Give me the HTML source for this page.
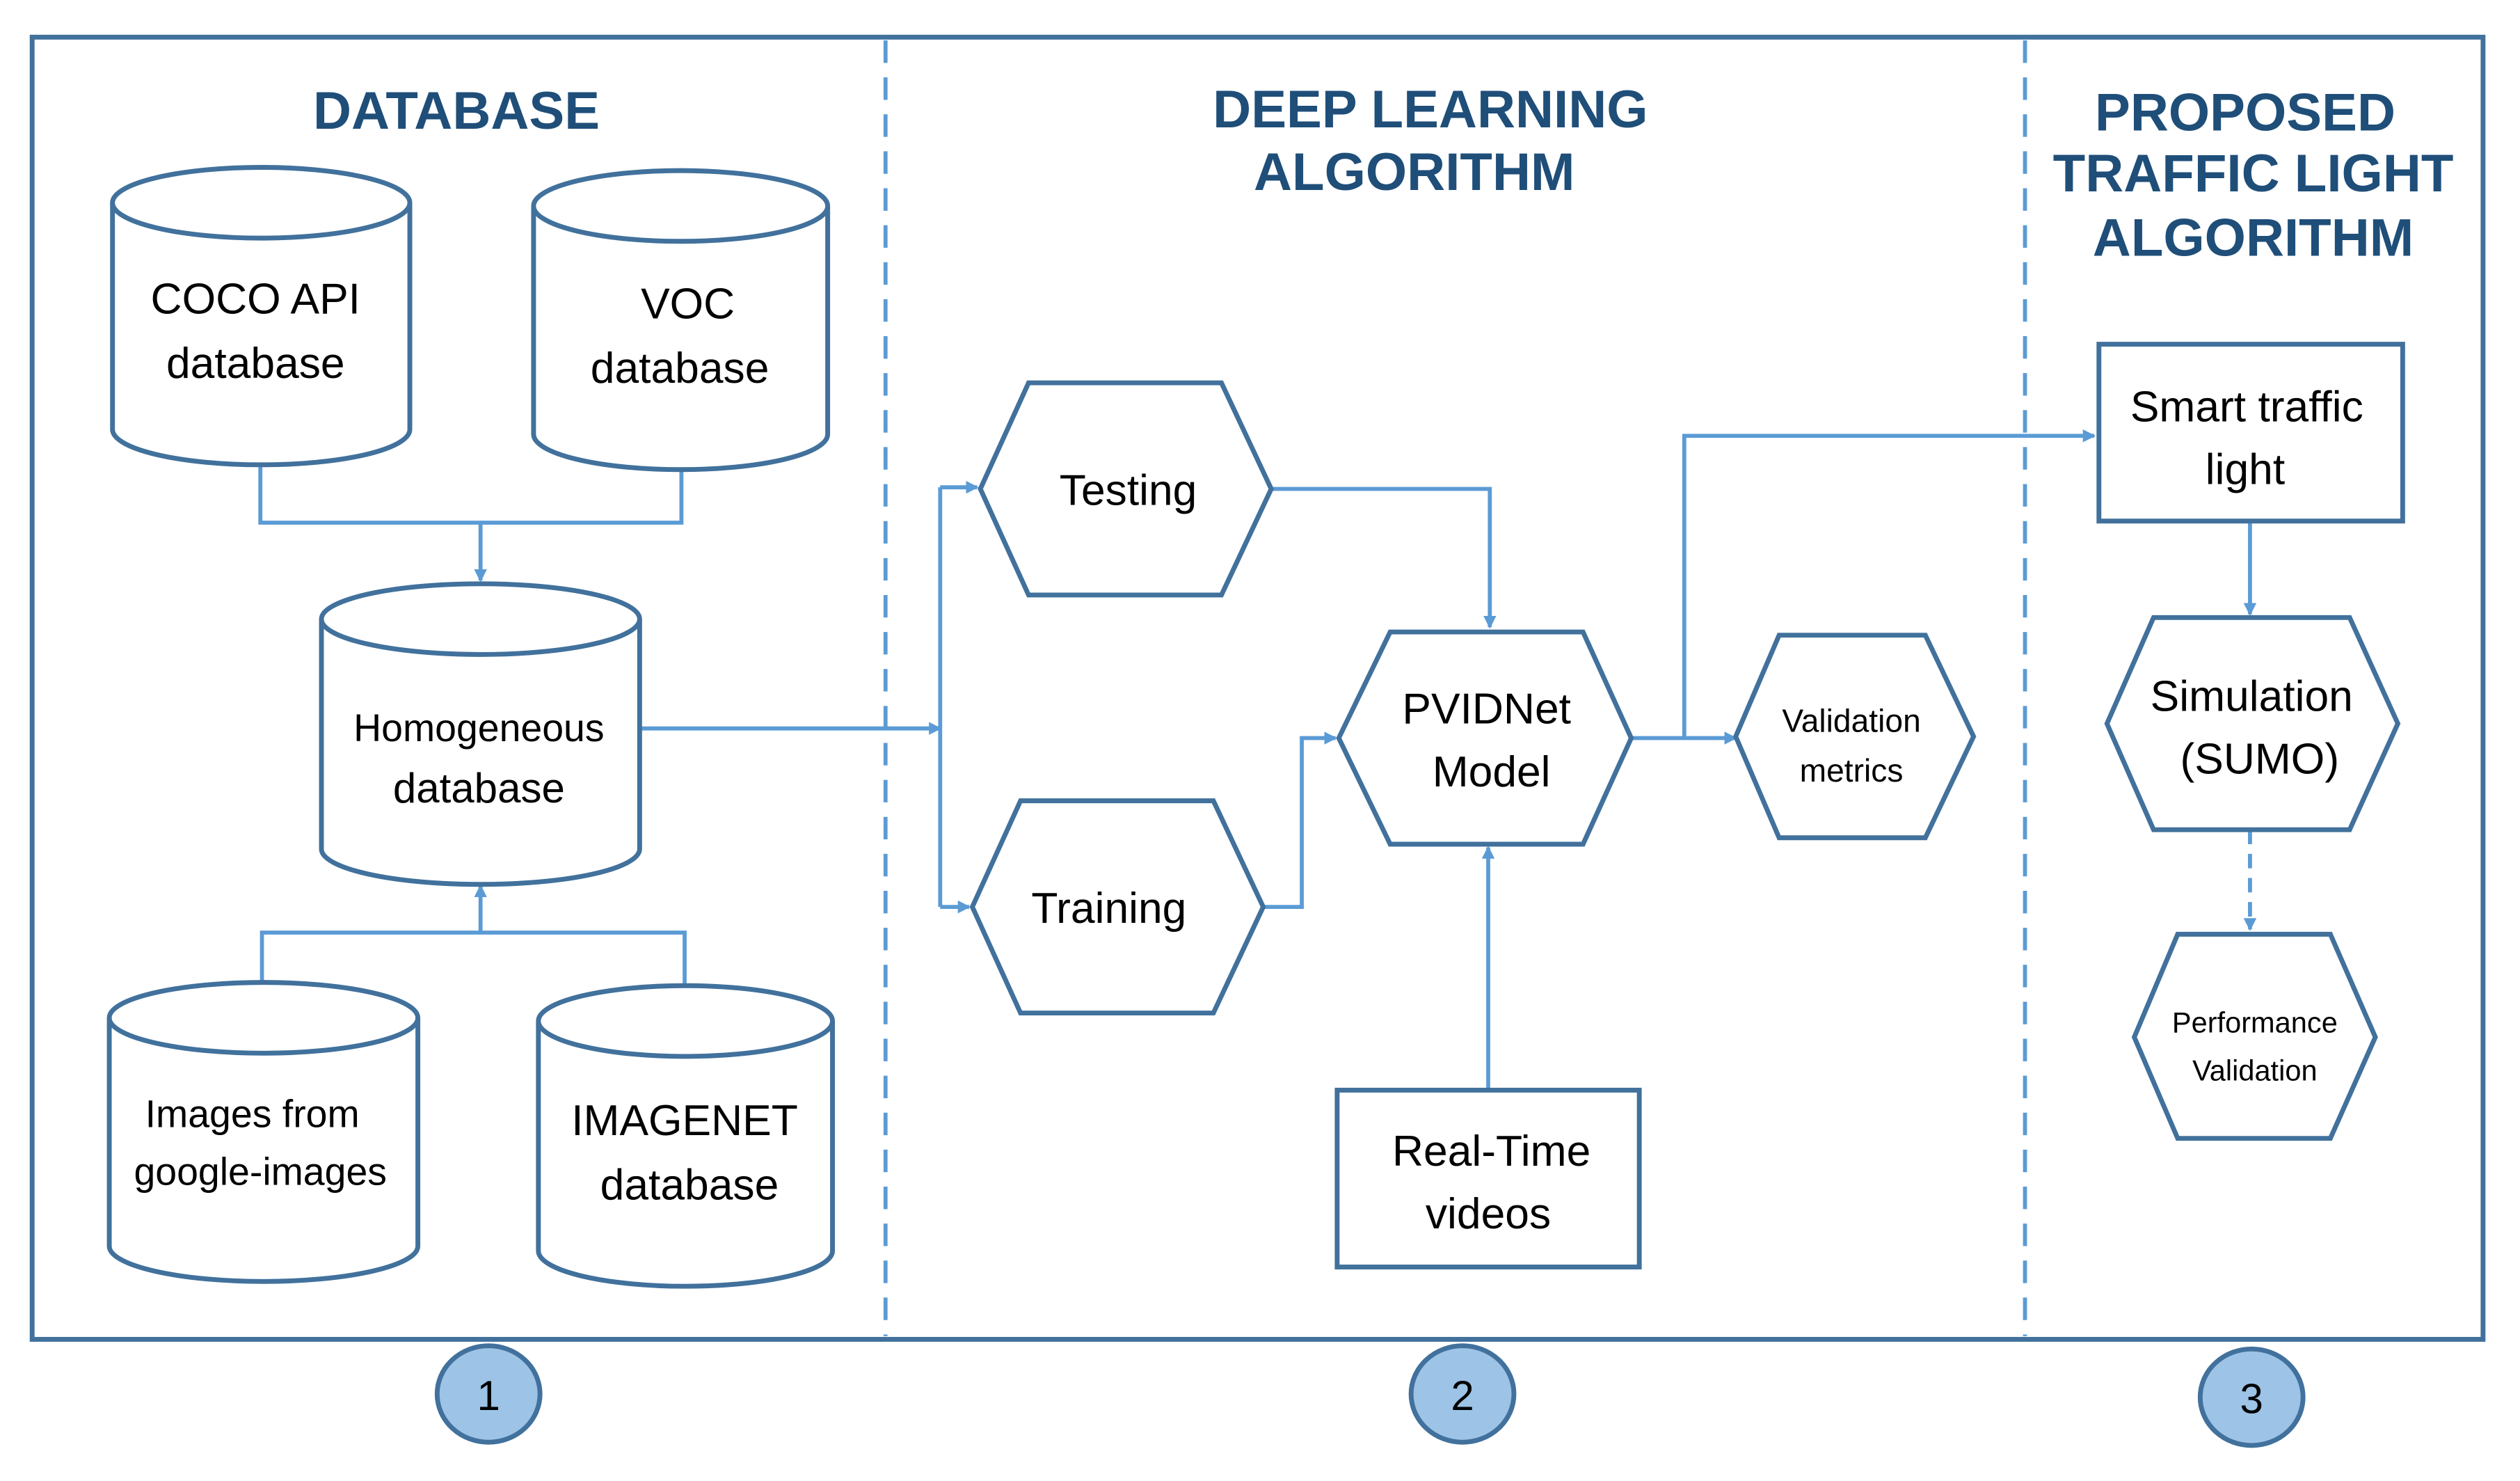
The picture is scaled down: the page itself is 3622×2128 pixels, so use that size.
<!DOCTYPE html>
<html><head><meta charset="utf-8"><style>html,body{margin:0;padding:0;background:#fff}svg{display:block}</style></head>
<body>
<svg width="3622" height="2128" viewBox="0 0 1568 921" xmlns="http://www.w3.org/2000/svg">
<defs>
<marker id="a" markerWidth="8" markerHeight="8" refX="7" refY="4" orient="auto" markerUnits="userSpaceOnUse">
<path d="M0,0 L8,4 L0,8 Z" fill="#5B9BD5"/></marker>
</defs>
<rect width="1568" height="921" fill="#fff"/>
<rect x="20" y="23" width="1525" height="810" fill="none" stroke="#41719C" stroke-width="3"/>
<g stroke="#5B9BD5" stroke-width="2.5" stroke-dasharray="14,9" fill="none">
<line x1="551" y1="25" x2="551" y2="831"/>
<line x1="1260" y1="25" x2="1260" y2="831"/>
</g>
<g font-family="Liberation Sans, Arial, sans-serif" font-weight="bold" font-size="33" fill="#1F4E79" text-anchor="middle">
<text x="284" y="80">DATABASE</text>
<text x="890" y="79">DEEP LEARNING</text>
<text x="880" y="118">ALGORITHM</text>
<text x="1397" y="81">PROPOSED</text>
<text x="1402" y="119">TRAFFIC LIGHT</text>
<text x="1402" y="159">ALGORITHM</text>
</g>
<g stroke="#5B9BD5" stroke-width="2.5" fill="none">
<polyline points="162,289 162,325 424,325 424,291"/>
<line x1="299" y1="325" x2="299" y2="361" marker-end="url(#a)"/>
<polyline points="163,610 163,580 426,580 426,612"/>
<line x1="299" y1="580" x2="299" y2="551" marker-end="url(#a)"/>
<line x1="398" y1="453" x2="585" y2="453" marker-end="url(#a)"/>
<line x1="585" y1="303" x2="585" y2="564"/>
<line x1="585" y1="303" x2="608" y2="303" marker-end="url(#a)"/>
<line x1="585" y1="564" x2="603" y2="564" marker-end="url(#a)"/>
<polyline points="791,304 927,304 927,390" marker-end="url(#a)"/>
<polyline points="786,564 810,564 810,459 831,459" marker-end="url(#a)"/>
<line x1="926" y1="678" x2="926" y2="527" marker-end="url(#a)"/>
<line x1="1015" y1="459" x2="1080" y2="459" marker-end="url(#a)"/>
<polyline points="1048,459 1048,271 1303,271" marker-end="url(#a)"/>
<line x1="1400" y1="324" x2="1400" y2="382" marker-end="url(#a)"/>
<line x1="1400" y1="516" x2="1400" y2="578" stroke-dasharray="9,6" marker-end="url(#a)"/>
</g>
<g stroke="#41719C" stroke-width="3" fill="#fff">
<path d="M70,126 V267 A92.5,22 0 0 0 255,267 V126"/><ellipse cx="162.5" cy="126" rx="92.5" ry="22"/>
<path d="M332,128 V270 A91.5,22 0 0 0 515,270 V128"/><ellipse cx="423.5" cy="128" rx="91.5" ry="22"/>
<path d="M200,385 V528 A99,22 0 0 0 398,528 V385"/><ellipse cx="299" cy="385" rx="99" ry="22"/>
<path d="M68,633 V775 A96,22 0 0 0 260,775 V633"/><ellipse cx="164" cy="633" rx="96" ry="22"/>
<path d="M335,635 V778 A91.5,22 0 0 0 518,778 V635"/><ellipse cx="426.5" cy="635" rx="91.5" ry="22"/>
<polygon points="610,304 640,238 760,238 791,304 760,370 640,370"/>
<polygon points="605,564 635,498 755,498 786,564 755,630 635,630"/>
<polygon points="833,459 865,393 985,393 1015,459 985,525 865,525"/>
<polygon points="1080,458 1107,395 1198,395 1228,458 1198,521 1107,521"/>
<polygon points="1311,450 1340,384 1462,384 1492,450 1462,516 1340,516"/>
<polygon points="1328,645 1355,581 1450,581 1478,645 1450,708 1355,708"/>
<rect x="832" y="678" width="188" height="110"/>
<rect x="1306" y="214" width="189" height="110"/>
</g>
<g stroke="#41719C" stroke-width="3" fill="#9DC3E6">
<ellipse cx="304" cy="867" rx="32" ry="30"/>
<ellipse cx="910" cy="867" rx="32" ry="30"/>
<ellipse cx="1401" cy="869" rx="32" ry="30"/>
</g>
<g font-family="Liberation Sans, Arial, sans-serif" fill="#000" text-anchor="middle">
<g font-size="27">
<text x="159" y="195">COCO  API</text>
<text x="159" y="235">database</text>
<text x="428" y="198">VOC</text>
<text x="423" y="238">database</text>
<text x="426" y="706">IMAGENET</text>
<text x="429" y="746">database</text>
<text x="702" y="314">Testing</text>
<text x="690" y="574">Training</text>
<text x="925" y="450">PVIDNet</text>
<text x="928" y="489">Model</text>
<text x="928" y="725">Real-Time</text>
<text x="926" y="764">videos</text>
<text x="1398" y="262">Smart traffic</text>
<text x="1397" y="301">light</text>
<text x="1401" y="442">Simulation</text>
<text x="1406" y="481">(SUMO)</text>
</g>
<g font-size="24">
<text x="298" y="461">Homogeneous</text>
<text x="298" y="499" font-size="26">database</text>
<text x="157" y="701">Images from</text>
<text x="162" y="737">google-images</text>
</g>
<g font-size="20">
<text x="1152" y="455">Validation</text>
<text x="1152" y="486">metrics</text>
</g>
<g font-size="18">
<text x="1403" y="642">Performance</text>
<text x="1403" y="672">Validation</text>
</g>
<g font-size="26">
<text x="304" y="877">1</text>
<text x="910" y="877">2</text>
<text x="1401" y="879">3</text>
</g>
</g>
</svg>
</body></html>
